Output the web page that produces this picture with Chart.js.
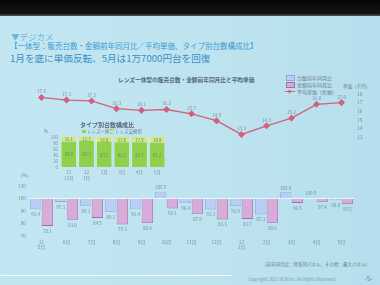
<!DOCTYPE html>
<html><head><meta charset="utf-8">
<script src="https://cdn.jsdelivr.net/npm/chart.js@4/dist/chart.umd.min.js"></script>
<style>
html,body{margin:0;padding:0;width:380px;height:285px;overflow:hidden;}
body{position:relative;background:linear-gradient(90deg,#c3e7f2,#bde3ef 60%,#b6deec);font-family:"Noto Sans CJK JP","Noto Sans",sans-serif;}
#band{position:absolute;left:0;top:0;width:380px;height:16px;background:linear-gradient(#050505,#151515 85%,#4a5a60);}
.t{position:absolute;white-space:nowrap;line-height:1;}
canvas{position:absolute;}
.lg{position:absolute;font-size:5px;color:#6a7c8c;white-space:nowrap;line-height:1;}
.box{position:absolute;width:7px;height:4px;}
</style></head>
<body>
<div id="band"></div>
<div class="t" style="left:11px;top:32px;font-size:8.5px;color:#72b6dc;">▼デジカメ</div>
<div class="t" style="left:10px;top:42px;font-size:7.5px;color:#3f9bd0;">【一体型：販売台数・金額前年同月比／平均単価、タイプ別台数構成比】</div>
<div class="t" style="left:10px;top:54px;font-size:9.6px;color:#3a8ec8;">1月を底に単価反転、5月は1万7000円台を回復</div>
<div class="t" style="left:118px;top:77px;font-size:5.7px;color:#55687a;font-weight:bold;">レンズ一体型の販売台数・金額前年同月比と平均単価</div>
<div class="t" style="left:343px;top:84px;font-size:4.5px;color:#6a7c8c;">単価（千円）</div>
<div class="t" style="left:18px;top:173px;font-size:4.5px;color:#6a7c8c;">（%）</div>
<div id="legend"></div>
<canvas id="main" width="380" height="185" style="left:0;top:70px;"></canvas>
<div class="t" style="left:80px;top:122px;font-size:6px;color:#55687a;font-weight:bold;">タイプ別台数構成比</div>
<div id="legend2"></div>
<div class="t" style="left:44px;top:129px;font-size:4.5px;color:#6a7c8c;">%</div>
<canvas id="inset" width="128" height="50" style="left:40px;top:132px;"></canvas>
<div class="t" style="left:262px;top:262px;font-size:4.5px;color:#6a7c8c;">（前年同月比：時系列パネル、その他：最大パネル）</div>
<div style="position:absolute;left:0;top:275px;width:232px;height:1px;background:rgba(255,255,255,0.8);"></div>
<div class="t" style="left:248px;top:277px;font-size:4.3px;color:#7a98b0;">Copyright 2012 BCN Inc. All Rights Reserved.</div>
<div class="t" style="left:364px;top:275px;font-size:7px;color:#3f8ed0;">-5-</div>
<script>
// ---- data ----
const months = [['11','5月'],'6月','7月','8月','9月','10月','11月','12月',['12','1月'],'2月','3月','4月','5月'];
const seriesNames = ['台数前年同月比','金額前年同月比','平均単価（右軸）'];
const unitsYoY = [91.4, 97.3, 94.3, 89.2, 91.4, 105.5, 96.4, 91.3, 93.9, 87.3, 105.0, 100.9, 98.8];
const valueYoY = [78.1, 83.0, 84.5, 79.3, 80.4, 92.1, 87.9, 83.3, 83.7, 80.6, 96.5, 97.4, 95.5];
const avgPrice = [17.6, 17.3, 17.2, 16.3, 16.1, 16.2, 15.7, 14.9, 13.3, 14.3, 15.2, 16.8, 17.0];
const pctTicks = [70, 80, 90, 100, 110];
const priceTicks = [13, 14, 15, 16, 17, 18];

const typeMonths = [['11','12月'],['12','1月'],'2月','3月','4月','5月'];
const typeNames = ['レンズ一体型','レンズ交換型'];
const integShare = [84.9, 87.3, 83.2, 82.2, 82.1, 81.2];
const interchShare = [15.1, 12.7, 16.8, 17.8, 17.9, 18.8];
const shareTicks = [0, 20, 40, 60, 80, 100];

// ---- styles ----
const FONT = "'Noto Sans CJK JP', 'Noto Sans', sans-serif";
const TICK = '#7a8c9c';
const C_UNITS = '#b9cdf5', B_UNITS = '#8ea9e2';
const C_VALUE = '#d8acd8', B_VALUE = '#a868b0';
const C_LINE = '#d2607e';
const C_G1 = '#8fd04c', C_G2 = '#d2ea76';

const valueLabels = {
  id: 'valueLabels',
  afterDatasetsDraw(chart, args, o) {
    const ctx = chart.ctx; ctx.save();
    ctx.font = o.size + 'px ' + FONT; ctx.textAlign = 'center'; ctx.fillStyle = o.color;
    chart.data.datasets.forEach((ds, i) => {
      const meta = chart.getDatasetMeta(i);
      meta.data.forEach((el, j) => {
        const v = ds.data[j], txt = v.toFixed(1);
        if (meta.type === 'line') { ctx.textBaseline = 'bottom'; ctx.fillText(txt, el.x, el.y - 3.5); }
        else if (o.stacked) { ctx.textBaseline = 'middle'; ctx.fillText(txt, el.x, (el.y + el.base) / 2 + 0.5); }
        else if (v < 100) { ctx.textBaseline = 'top'; ctx.fillText(txt, el.x, el.y + 3); }
        else { ctx.textBaseline = 'bottom'; ctx.fillText(txt, el.x, el.y - 2); }
      });
    });
    ctx.restore();
  }
};

Chart.defaults.font.family = FONT;
Chart.defaults.animation = false;

new Chart(document.getElementById('main'), {
  type: 'bar',
  data: {
    labels: months,
    datasets: [
      { type: 'line', label: seriesNames[2], data: avgPrice, yAxisID: 'y1', order: 0,
        borderColor: C_LINE, borderWidth: 1.3, pointStyle: 'rectRot', pointRadius: 2.6,
        pointBackgroundColor: C_LINE, pointBorderColor: C_LINE, tension: 0 },
      { label: seriesNames[0], data: unitsYoY, yAxisID: 'y', base: 100, order: 1,
        backgroundColor: C_UNITS, borderColor: B_UNITS, borderWidth: 0.8,
        categoryPercentage: 0.94, barPercentage: 0.96 },
      { label: seriesNames[1], data: valueYoY, yAxisID: 'y', base: 100, order: 1,
        backgroundColor: C_VALUE, borderColor: B_VALUE, borderWidth: 0.8,
        categoryPercentage: 0.94, barPercentage: 0.96 }
    ]
  },
  options: {
    responsive: false, devicePixelRatio: 1,
    layout: { padding: { top: 18, left: 0, right: 0, bottom: 0 } },
    plugins: { legend: { display: false }, tooltip: { enabled: false },
      valueLabels: { size: 4.6, color: '#7d8ea0' } },
    scales: {
      x: { offset: true, grid: { display: false, drawTicks: false }, border: { display: false },
        ticks: { font: { size: 4.8 }, color: TICK, padding: 3, maxRotation: 0, autoSkip: false },
        afterFit: s => { s.height = 19; } },
      y: { position: 'left', min: 70, max: 188.4,
        afterBuildTicks: s => { s.ticks = pctTicks.map(v => ({ value: v })); },
        afterFit: s => { s.width = 29; },
        grid: { drawTicks: false, color: c => c.tick && c.tick.value === 100 ? 'rgba(255,255,255,0.85)' : 'rgba(0,0,0,0)', lineWidth: 0.8 },
        border: { display: false },
        ticks: { font: { size: 4.8 }, color: TICK, padding: 3, autoSkip: false } },
      y1: { position: 'right', min: 1.49, max: 18.7,
        afterBuildTicks: s => { s.ticks = priceTicks.map(v => ({ value: v })); },
        afterFit: s => { s.width = 26; },
        grid: { display: false, drawTicks: false }, border: { display: false },
        ticks: { font: { size: 4.8 }, color: TICK, padding: 3, autoSkip: false } }
    }
  },
  plugins: [valueLabels]
});

new Chart(document.getElementById('inset'), {
  type: 'bar',
  data: {
    labels: typeMonths,
    datasets: [
      { label: typeNames[0], data: integShare, backgroundColor: C_G1, borderColor: '#eef8d8', borderWidth: { left: 0.6, right: 0.6 } },
      { label: typeNames[1], data: interchShare, backgroundColor: C_G2, borderColor: '#eef8d8', borderWidth: { left: 0.6, right: 0.6 } }
    ]
  },
  options: {
    responsive: false, devicePixelRatio: 1,
    layout: { padding: { top: 5, right: 2, left: 0, bottom: 0 } },
    datasets: { bar: { categoryPercentage: 0.9, barPercentage: 1 } },
    plugins: { legend: { display: false }, tooltip: { enabled: false },
      valueLabels: { size: 4.3, color: '#6f8070', stacked: true } },
    scales: {
      x: { stacked: true, grid: { display: false, drawTicks: false }, border: { display: false },
        ticks: { font: { size: 4.5 }, color: TICK, padding: 3, maxRotation: 0, autoSkip: false },
        afterFit: s => { s.height = 15; } },
      y: { stacked: true, min: 0, max: 100,
        afterBuildTicks: s => { s.ticks = shareTicks.map(v => ({ value: v })); },
        afterFit: s => { s.width = 20; },
        grid: { display: false, drawTicks: false }, border: { display: false },
        ticks: { font: { size: 4.3 }, color: TICK, padding: 2, autoSkip: false } }
    }
  },
  plugins: [valueLabels]
});

// HTML legends built from the series names
const lg = document.getElementById('legend');
const rows = [
  { name: seriesNames[0], kind: 'box', fill: C_UNITS, border: B_UNITS },
  { name: seriesNames[1], kind: 'box', fill: C_VALUE, border: B_VALUE },
  { name: seriesNames[2], kind: 'line', fill: C_LINE }
];
rows.forEach((r, i) => {
  const y = 75 + i * 7.2;
  if (r.kind === 'box') {
    const b = document.createElement('div'); b.className = 'box';
    b.style.left = '286px'; b.style.top = y + 'px'; b.style.background = r.fill; b.style.border = '0.6px solid ' + r.border;
    lg.appendChild(b);
  } else {
    const l = document.createElement('div');
    l.style.cssText = 'position:absolute;left:285px;top:' + (y + 2) + 'px;width:10px;height:1px;background:' + r.fill;
    lg.appendChild(l);
    const d = document.createElement('div');
    d.style.cssText = 'position:absolute;left:288px;top:' + (y + 0.5) + 'px;width:3px;height:3px;transform:rotate(45deg);background:' + r.fill;
    lg.appendChild(d);
  }
  const t = document.createElement('div'); t.className = 'lg';
  t.style.left = '297px'; t.style.top = (y - 0.5) + 'px'; t.textContent = r.name;
  lg.appendChild(t);
});
const lg2 = document.getElementById('legend2');
[[typeNames[0], C_G1, 82], [typeNames[1], C_G2, 110]].forEach(([n, c, x]) => {
  const b = document.createElement('div'); b.className = 'box';
  b.style.cssText += 'left:' + x + 'px;top:130px;width:4px;height:3px;background:' + c;
  lg2.appendChild(b);
  const t = document.createElement('div'); t.className = 'lg';
  t.style.left = (x + 5) + 'px'; t.style.top = '129px'; t.style.fontSize = '4.5px'; t.textContent = n;
  lg2.appendChild(t);
});
</script>
</body></html>
